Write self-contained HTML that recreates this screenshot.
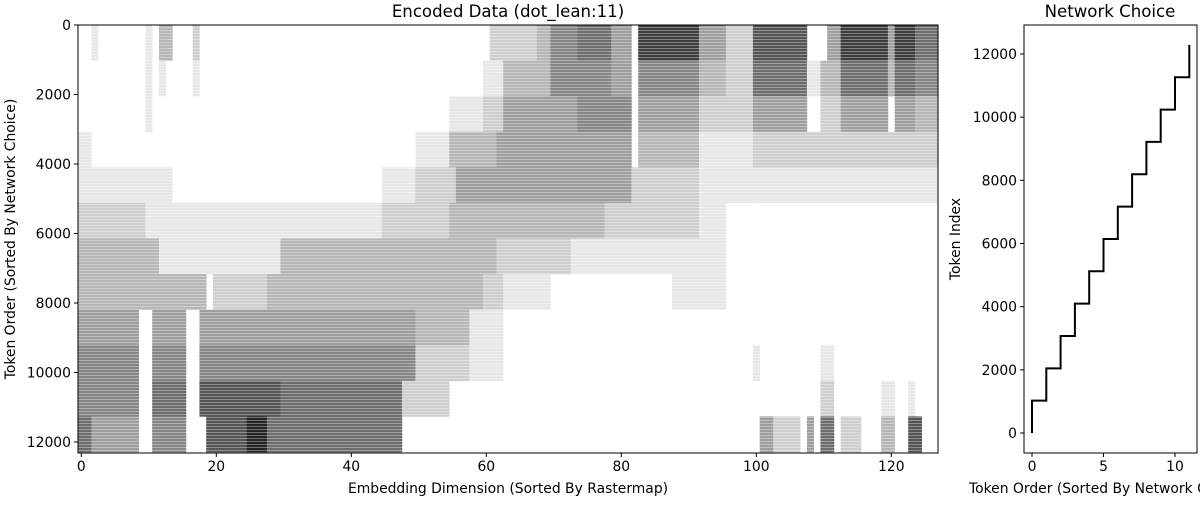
<!DOCTYPE html>
<html><head><meta charset="utf-8"><style>
body{margin:0;background:#fff;width:1200px;height:500px;overflow:hidden}
svg text{font-family:"DejaVu Sans","Liberation Sans",sans-serif;fill:#000}
</style></head><body>
<svg id="fig" width="1200" height="500" xmlns="http://www.w3.org/2000/svg">
<defs>
<pattern id="streaks" width="8" height="3" patternUnits="userSpaceOnUse">
<rect x="0" y="0" width="8" height="1" fill="#fff" opacity="0.35"/>
</pattern>
</defs>
<g id="heat"></g>
<g id="main-axes"></g>
<g id="side"></g>
</svg>
<script>
// ---- data ----
const blockSize = 1024;
const nColumns = 128;
const blockRuns = [
 [[2,3,1],[10,11,1],[12,14,3],[17,18,2],[61,68,2],[68,70,3],[70,74,5],[74,79,6],[79,82,4],[83,92,8],[92,96,4],[96,100,2],[100,108,7],[111,113,4],[113,120,8],[120,121,4],[121,124,8],[124,128,6]],
 [[10,11,1],[12,13,1],[17,18,1],[60,63,1],[63,70,3],[70,74,5],[74,79,5],[79,82,4],[83,92,5],[92,96,3],[96,100,2],[100,108,6],[108,110,1],[110,113,3],[113,120,6],[120,121,3],[121,124,6],[124,128,5]],
 [[10,11,1],[55,60,1],[60,63,2],[63,70,4],[70,74,4],[74,82,5],[83,92,4],[92,96,2],[96,100,2],[100,108,4],[110,113,2],[113,120,4],[121,124,4],[124,128,3]],
 [[0,2,1],[50,55,1],[55,62,3],[62,70,4],[70,82,4],[83,92,3],[92,100,1],[100,128,2]],
 [[0,10,1],[10,14,1],[45,50,1],[50,56,2],[56,82,4],[82,92,2],[92,100,1],[100,128,1]],
 [[0,10,2],[10,45,1],[45,55,2],[55,64,3],[64,78,3],[78,92,2],[92,96,1]],
 [[0,12,3],[12,30,1],[30,50,3],[50,62,3],[62,73,2],[73,96,1]],
 [[0,19,3],[20,28,2],[28,50,3],[50,60,3],[60,63,2],[63,70,1],[88,96,1]],
 [[0,9,4],[11,16,4],[18,28,4],[28,50,4],[50,58,3],[58,63,1]],
 [[0,9,5],[11,16,5],[18,28,5],[28,50,5],[50,58,2],[58,63,1],[100,101,1],[110,112,1]],
 [[0,9,5],[11,16,6],[18,30,7],[30,48,6],[48,55,2],[110,112,2],[119,121,1],[123,124,1]],
 [[0,2,6],[2,9,4],[11,16,5],[19,25,7],[25,28,9],[28,48,6],[101,103,4],[103,107,2],[108,109,4],[110,112,6],[113,116,2],[119,121,3],[123,125,7]]
];
const xTicks = [0,20,40,60,80,100,120];
const yTicks = [0,2000,4000,6000,8000,10000,12000];
const networkOrder = [0,1,2,3,4,5,6,7,8,9,10,11];
const sideXTicks = [0,5,10];
const sideYTicks = [0,2000,4000,6000,8000,10000,12000];

const NS="http://www.w3.org/2000/svg";
function mk(tag,attrs,parent,txt){const e=document.createElementNS(NS,tag);for(const k in attrs)e.setAttribute(k,attrs[k]);if(txt!==undefined)e.textContent=txt;parent.appendChild(e);return e;}

const FS=13.9, TFS=16.6;
// main axes
const L=78,R=938,T=25,B=453;
const xs=c=>81.3+6.75*c;
const ys=t=>25+t*(442-25)/12000;
const heat=document.getElementById('heat');
mk('clipPath',{id:'clipMain'},heat);
mk('rect',{x:L,y:T,width:R-L,height:B-T},document.getElementById('clipMain'));
const hg=mk('g',{'clip-path':'url(#clipMain)'},heat);
blockRuns.forEach((runs,b)=>{
  runs.forEach(r=>{
    const v=r[2]; if(!v) return;
    const g=Math.round(255*(1-v/10.5));
    const el=mk('rect',{x:xs(r[0]-0.5),y:ys(b*blockSize),width:xs(r[1]-0.5)-xs(r[0]-0.5)+0.3,height:ys(blockSize)-ys(0)+0.3,fill:`rgb(${g},${g},${g})`},hg);
    
    
  });
});
mk('rect',{x:L,y:T,width:R-L,height:B-T,fill:'url(#streaks)'},hg);
const ax=document.getElementById('main-axes');
mk('rect',{x:L,y:T,width:R-L,height:B-T,fill:'none',stroke:'#000','stroke-width':1},ax);
xTicks.forEach(t=>{const x=xs(t);mk('line',{x1:x,x2:x,y1:B,y2:B+4,stroke:'#000'},ax);
  const tx=mk('text',{x:x,y:B+18,'text-anchor':'middle','font-size':FS},ax,t);
  
  });
yTicks.forEach(t=>{const y=ys(t);mk('line',{x1:L-4,x2:L,y1:y,y2:y,stroke:'#000'},ax);
  const tx=mk('text',{x:L-7,y:y+5,'text-anchor':'end','font-size':FS},ax,t);
  
  });
mk('text',{x:508,y:17,'text-anchor':'middle','font-size':TFS,},ax,'Encoded Data (dot_lean:11)');
mk('text',{x:508,y:493,'text-anchor':'middle','font-size':FS,},ax,'Embedding Dimension (Sorted By Rastermap)');
mk('text',{x:0,y:0,'text-anchor':'middle','font-size':FS,transform:'translate(15,239) rotate(-90)',},ax,'Token Order (Sorted By Network Choice)');

// side chart
const sL=1024,sR=1197;
const sx=i=>1032+14.3*i;
const sy=v=>433-v*(433-54)/12000;
const side=document.getElementById('side');
mk('rect',{x:sL,y:T,width:sR-sL,height:B-T,fill:'none',stroke:'#000'},side);
let d='';
networkOrder.forEach((n,i)=>{
  const x=sx(n);
  if(i===0) d+=`M${x},${sy(i*blockSize)}`; else d+=`H${x}`;
  d+=`V${sy((i+1)*blockSize)}`;
});
const line=mk('path',{d:d,fill:'none',stroke:'#000','stroke-width':2},side);


sideXTicks.forEach(t=>{const x=sx(t);mk('line',{x1:x,x2:x,y1:B,y2:B+4,stroke:'#000'},side);
  const tx=mk('text',{x:x,y:B+18,'text-anchor':'middle','font-size':FS},side,t);
  
  });
sideYTicks.forEach(t=>{const y=sy(t);mk('line',{x1:sL-4,x2:sL,y1:y,y2:y,stroke:'#000'},side);
  const tx=mk('text',{x:sL-7,y:y+5,'text-anchor':'end','font-size':FS},side,t);
  
  });
mk('text',{x:1110,y:17,'text-anchor':'middle','font-size':TFS,},side,'Network Choice');
mk('text',{x:969,y:493,'font-size':FS,},side,'Token Order (Sorted By Network Choice)');
mk('text',{x:0,y:0,'text-anchor':'middle','font-size':FS,transform:'translate(960,239) rotate(-90)',},side,'Token Index');
</script>
</body></html>
